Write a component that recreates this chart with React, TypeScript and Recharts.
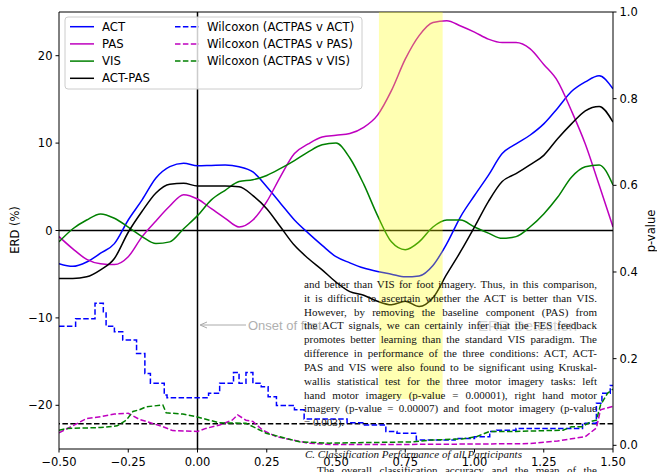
import React from 'react';
import { LineChart, Line, XAxis, YAxis, ReferenceLine, ReferenceArea } from 'recharts';

// time axis (s) for the ERD curves
const timeGrid = [
  -0.5, -0.45, -0.4, -0.35, -0.3, -0.25, -0.2, -0.15, -0.1, -0.05,
  0, 0.05, 0.1, 0.15, 0.2, 0.25, 0.3, 0.35, 0.4, 0.45,
  0.5, 0.55, 0.6, 0.65, 0.7, 0.75, 0.8, 0.85, 0.9, 0.95,
  1.0, 1.05, 1.1, 1.15, 1.2, 1.25, 1.3, 1.35, 1.4, 1.45, 1.5,
];

const actErd = [
  -3.8, -4.1, -3.6, -2.6, -1.5, 1.2, 3.5, 6.0, 7.3, 7.7,
  7.4, 7.45, 7.5, 7.3, 6.7, 5.0, 3.1, 1.2, -0.3, -1.7,
  -3.0, -3.7, -4.3, -4.7, -5.0, -5.3, -5.2, -4.0, -1.5, 1.6,
  4.0, 6.3, 8.8, 9.9, 10.9, 12.2, 14.0, 15.9, 17.0, 17.7, 16.2,
];
const pasErd = [
  -0.7, -2.1, -3.3, -3.8, -3.9, -3.0, -0.7, 1.1, 2.8, 4.1,
  3.6, 2.5, 1.4, 0.4, 1.2, 3.3, 6.2, 8.8, 9.9, 10.7,
  10.9, 11.1, 11.8, 13.2, 16.0, 19.6, 22.3, 23.8, 24.0, 23.4,
  22.7, 21.9, 21.5, 21.5, 20.8, 19.0, 17.1, 13.7, 9.9, 5.2, 0.4,
];
const visErd = [
  -1.3, 0.2, 1.2, 1.9, 1.4, 0.4, -0.7, -1.5, -1.3, 0.2,
  1.7, 3.5, 4.6, 5.6, 5.8, 6.3, 7.1, 8.0, 9.0, 9.8,
  10.0, 8.3, 5.3, 1.7, -1.3, -2.2, -1.3, 0.4, 1.2, 1.2,
  0.4, -0.3, -0.9, -0.7, 0.4, 1.9, 3.8, 6.1, 7.3, 7.5, 5.2,
];
const actPasErd = [
  -5.5, -5.5, -5.3, -4.5, -3.2, -0.2, 2.2, 4.3, 5.3, 5.4,
  5.1, 5.1, 5.1, 5.0, 4.0, 2.5, 0.4, -1.7, -3.2, -4.5,
  -5.9, -7.0, -7.4, -8.1, -8.5, -8.1, -8.7, -7.7, -5.0, -2.4,
  0.4, 3.3, 5.6, 6.5, 7.5, 8.6, 10.5, 12.2, 13.7, 14.2, 12.4,
];

// Wilcoxon p-values (right axis)
const pActTime = [
  -0.5, -0.44, -0.37, -0.34, -0.33, -0.3, -0.27, -0.22, -0.19, -0.17,
  -0.12, -0.11, 0.04, 0.08, 0.13, 0.15, 0.175, 0.2, 0.23, 0.255,
  0.285, 0.35, 0.385, 0.54, 0.6, 0.68, 0.72, 0.79, 0.93, 1.0,
  1.055, 1.08, 1.15, 1.39, 1.44, 1.46, 1.49, 1.5,
];
const pActVal = [
  0.275, 0.292, 0.328, 0.308, 0.275, 0.262, 0.243, 0.212, 0.166, 0.143,
  0.116, 0.11, 0.12, 0.143, 0.168, 0.143, 0.168, 0.143, 0.135, 0.112,
  0.092, 0.082, 0.061, 0.052, 0.047, 0.032, 0.028, 0.012, 0.016, 0.02,
  0.032, 0.035, 0.039, 0.051, 0.097, 0.12, 0.138, 0.138,
];
const pPasTime = [
  -0.5, -0.45, -0.4, -0.35, -0.3, -0.25, -0.21, -0.17, -0.125, -0.09,
  0.0, 0.03, 0.08, 0.125, 0.145, 0.175, 0.2, 0.235, 0.285, 0.345,
  0.4, 0.48, 0.75, 1.0, 1.2, 1.3, 1.4, 1.44, 1.455, 1.5,
];
const pPasVal = [
  0.029, 0.045, 0.062, 0.066, 0.072, 0.074, 0.06, 0.052, 0.043, 0.034,
  0.032, 0.039, 0.047, 0.058, 0.07, 0.058, 0.055, 0.035, 0.02, 0.012,
  0.005, 0.002, 0.002, 0.003, 0.004, 0.01, 0.02, 0.04, 0.082, 0.09,
];
const pVisTime = [
  -0.5, -0.47, -0.35, -0.29, -0.257, -0.233, -0.21, -0.185, -0.125, -0.113,
  -0.053, -0.005, 0.043, 0.079, 0.175, 0.2, 0.248, 0.308, 0.368, 0.476,
  0.78, 0.84, 0.96, 1.007, 1.055, 1.15, 1.32, 1.35, 1.39, 1.42,
  1.44, 1.455, 1.48, 1.5,
];
const pVisVal = [
  0.035, 0.039, 0.041, 0.045, 0.058, 0.078, 0.082, 0.089, 0.093, 0.075,
  0.072, 0.066, 0.058, 0.052, 0.051, 0.043, 0.028, 0.018, 0.008, 0.005,
  0.008, 0.012, 0.015, 0.02, 0.032, 0.032, 0.035, 0.043, 0.043, 0.055,
  0.058, 0.093, 0.12, 0.13,
];

const xTicks = [-0.5, -0.25, 0, 0.25, 0.5, 0.75, 1, 1.25, 1.5];
const erdTicks = [-20, -10, 0, 10, 20];
const pTicks = [0, 0.2, 0.4, 0.6, 0.8, 1];
const shadeTime = [0.655, 0.885];
const shadeP = [0.107, 1];
const alphaLevel = 0.05;

const paperLines = [
  'and better than VIS for foot imagery. Thus, in this comparison,',
  'it is difficult to ascertain whether the ACT is better than VIS.',
  'However, by removing the baseline component (PAS) from',
  'the ACT signals, we can certainly infer that the FES feedback',
  'promotes better learning than the standard VIS paradigm. The',
  'difference in performance of the three conditions: ACT, ACT-',
  'PAS and VIS were also found to be significant using Kruskal-',
  'wallis statistical test for the three motor imagery tasks: left',
  'hand motor imagery (p-value = 0.00001), right hand motor',
  'imagery (p-value = 0.00007) and foot motor imagery (p-value',
  '= 0.003).',
];

const BLUE = '#0000ff';
const MAGENTA = '#bf00bf';
const GREEN = '#008000';
const DASH = '5.5 2.4';
const FONT = 'DejaVu Sans';

const erdData = timeGrid.map((t, i) => ({
  t,
  act: actErd[i],
  pas: pasErd[i],
  vis: visErd[i],
  actPas: actPasErd[i],
}));
const toRows = (ts: number[], vs: number[]) => ts.map((t, i) => ({ t, p: vs[i] }));
const pActData = toRows(pActTime, pActVal);
const pPasData = toRows(pPasTime, pPasVal);
const pVisData = toRows(pVisTime, pVisVal);

const minus = (s: string) => s.replace('-', '\u2212');
const tickStyle = { fill: '#000', fontSize: 11.5, fontFamily: FONT };

const legendItems = [
  { label: 'ACT', color: BLUE, dashed: false, col: 0, row: 0 },
  { label: 'PAS', color: MAGENTA, dashed: false, col: 0, row: 1 },
  { label: 'VIS', color: GREEN, dashed: false, col: 0, row: 2 },
  { label: 'ACT-PAS', color: '#000', dashed: false, col: 0, row: 3 },
  { label: 'Wilcoxon (ACTPAS v ACT)', color: BLUE, dashed: true, col: 1, row: 0 },
  { label: 'Wilcoxon (ACTPAS v PAS)', color: MAGENTA, dashed: true, col: 1, row: 1 },
  { label: 'Wilcoxon (ACTPAS v VIS)', color: GREEN, dashed: true, col: 1, row: 2 },
];

const paperFont = { fontFamily: 'Liberation Serif', fontSize: 11, lineHeight: '13.83px', color: '#111' };

export default function App() {
  return (
    <div style={{ position: 'absolute', left: 0, top: 0, width: 657, height: 472, background: '#fff', overflow: 'hidden' }}>
      <LineChart width={657} height={472} data={erdData} margin={{ top: 12, right: 0, bottom: 0, left: 0 }}>
        <XAxis
          type="number"
          dataKey="t"
          domain={[-0.5, 1.5]}
          ticks={xTicks}
          allowDataOverflow
          height={23}
          stroke="#000"
          tickSize={3.5}
          tickMargin={5}
          tick={tickStyle}
          tickFormatter={(v: number) => minus(v.toFixed(2))}
        />
        <YAxis
          yAxisId="erd"
          domain={[-25, 25]}
          ticks={erdTicks}
          allowDataOverflow
          width={59}
          stroke="#000"
          tickSize={3.5}
          tickMargin={3}
          tick={tickStyle}
          tickFormatter={(v: number) => minus(String(v))}
        />
        <YAxis
          yAxisId="p"
          orientation="right"
          domain={[-0.0085, 1]}
          ticks={pTicks}
          allowDataOverflow
          width={44}
          stroke="#000"
          tickSize={3.5}
          tickMargin={3}
          tick={tickStyle}
          tickFormatter={(v: number) => v.toFixed(1)}
        />
        <ReferenceLine yAxisId="erd" y={25} stroke="#000" strokeWidth={1} />
        <ReferenceLine yAxisId="erd" y={0} stroke="#000" strokeWidth={1.5} />
        <ReferenceLine yAxisId="erd" x={0} stroke="#000" strokeWidth={1.5} />
        <ReferenceLine yAxisId="p" y={alphaLevel} stroke="#000" strokeWidth={1.5} strokeDasharray={DASH} />

        <Line yAxisId="erd" dataKey="act" type="monotone" stroke={BLUE} strokeWidth={1.5} dot={false} isAnimationActive={false} />
        <Line yAxisId="erd" dataKey="pas" type="monotone" stroke={MAGENTA} strokeWidth={1.5} dot={false} isAnimationActive={false} />
        <Line yAxisId="erd" dataKey="vis" type="monotone" stroke={GREEN} strokeWidth={1.5} dot={false} isAnimationActive={false} />
        <Line yAxisId="erd" dataKey="actPas" type="monotone" stroke="#000" strokeWidth={1.5} dot={false} isAnimationActive={false} />

        <Line yAxisId="p" data={pActData} dataKey="p" type="stepAfter" stroke={BLUE} strokeWidth={1.5} strokeDasharray={DASH} dot={false} isAnimationActive={false} />
        <Line yAxisId="p" data={pPasData} dataKey="p" type="linear" stroke={MAGENTA} strokeWidth={1.5} strokeDasharray={DASH} dot={false} isAnimationActive={false} />
        <Line yAxisId="p" data={pVisData} dataKey="p" type="linear" stroke={GREEN} strokeWidth={1.5} strokeDasharray={DASH} dot={false} isAnimationActive={false} />

        <ReferenceArea
          yAxisId="p"
          x1={shadeTime[0]}
          x2={shadeTime[1]}
          y1={shadeP[0]}
          y2={shadeP[1]}
          fill="#ffff00"
          fillOpacity={0.3}
          stroke="none"
          ifOverflow="visible"
          zIndex={2000}
        />
      </LineChart>

      <svg width={657} height={472} style={{ position: 'absolute', left: 0, top: 0, pointerEvents: 'none' }}>
        <text transform="translate(15,230) rotate(-90)" textAnchor="middle" dominantBaseline="central"
          fontFamily={FONT} fontSize={11.5} fill="#000">ERD (%)</text>
        <text transform="translate(651,231) rotate(-90)" textAnchor="middle" dominantBaseline="central"
          fontFamily={FONT} fontSize={11.5} fill="#000">p-value</text>

        <rect x={65} y={17} width={297} height={72} rx={3} fill="#fff" fillOpacity={0.8} stroke="#cccccc" strokeWidth={1} />
        {legendItems.map((it) => {
          const lx = it.col === 0 ? 70 : 175;
          const tx = it.col === 0 ? 102 : 207;
          const cy = 26.7 + it.row * 17.2;
          return (
            <g key={it.label}>
              <line x1={lx} x2={lx + 24} y1={cy} y2={cy} stroke={it.color} strokeWidth={1.5}
                strokeDasharray={it.dashed ? DASH : undefined} />
              <text x={tx} y={cy} dominantBaseline="central" fontFamily={FONT} fontSize={11.7} fill="#000">{it.label}</text>
            </g>
          );
        })}

        <line x1={246} y1={325} x2={201} y2={325} stroke="#aaaaaa" strokeWidth={1} />
        <polyline points="207,322 200,325 207,328" fill="none" stroke="#aaaaaa" strokeWidth={1} />
        <text x={248} y={330} fontFamily="Liberation Sans" fontSize={13} fill="#b0b0b0">Onset of first</text>
        <text x={478} y={331} fontFamily="Liberation Sans" fontSize={15} fill="#d4d4d4">ERD Detection</text>
      </svg>

      <div style={{ position: 'absolute', left: 304, top: 278, width: 293, pointerEvents: 'none', ...paperFont }}>
        {paperLines.map((ln, i) => (
          <div key={i} style={{
            textAlign: 'justify', textAlignLast: i < paperLines.length - 1 ? 'justify' : 'left',
          }}>{ln}</div>
        ))}
      </div>
      <div style={{ position: 'absolute', left: 305, top: 448, fontStyle: 'italic', whiteSpace: 'nowrap', ...paperFont }}>
        C. Classification Performance of all Participants
      </div>
      <div style={{
        position: 'absolute', left: 317, top: 464, width: 280, textAlign: 'justify', textAlignLast: 'justify', ...paperFont,
      }}>The overall classification accuracy and the mean of the</div>
    </div>
  );
}
